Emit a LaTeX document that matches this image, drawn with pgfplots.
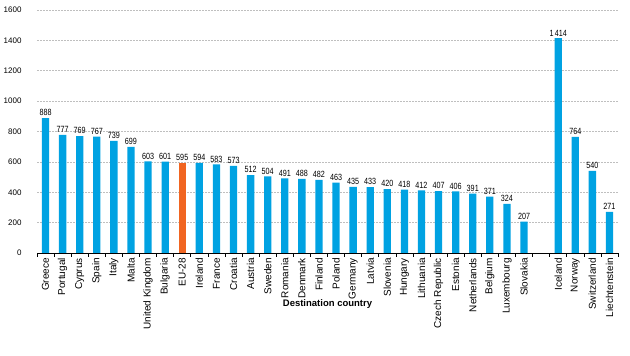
\documentclass[border=0pt]{standalone}
\usepackage{pgfplots}
\pgfplotsset{compat=1.18}
\usepackage{fontspec}
\setmainfont{Liberation Sans}
\definecolor{barblue}{RGB}{0,162,226}
\definecolor{barorange}{RGB}{241,101,33}
\begin{document}
\begin{tikzpicture}
\begin{axis}[
  at={(37bp,103bp)}, anchor=south west,
  scale only axis, width=581bp, height=243bp,
  ybar, bar width=7.3bp,
  xmin=-0.5, xmax=33.5, ymin=0, ymax=1600,
  ytick={0,200,...,1600},
  axis x line*=bottom, axis y line*=left,
  y axis line style={draw=none},
  x axis line style={black, line width=0.6bp},
  xtick={0,1,2,3,4,5,6,7,8,9,10,11,12,13,14,15,16,17,18,19,20,21,22,23,24,25,26,27,28,30,31,32,33},
  xticklabels={Greece,Portugal,Cyprus,Spain,Italy,Malta,United Kingdom,Bulgaria,EU-28,Ireland,France,Croatia,Austria,Sweden,Romania,Denmark,Finland,Poland,Germany,Latvia,Slovenia,Hungary,Lithuania,Czech Republic,Estonia,Netherlands,Belgium,Luxembourg,Slovakia,Iceland,Norway,Switzerland,Liechtenstein},
  minor xtick={-0.5,0.5,...,33.5},
  major tick length=0pt, minor tick length=4bp,
  tick align=outside,
  minor tick style={black, line width=0.6bp},
  xticklabel style={rotate=90, anchor=east, font=\fontsize{10bp}{11bp}\selectfont, inner sep=1bp, xshift=-4bp},
  yticklabel style={font=\fontsize{8bp}{9bp}\selectfont, xshift=-12bp, /pgf/number format/1000 sep={}},
  /pgf/number format/assume math mode=true,
  ymajorgrids, grid style={gray!50, dash pattern=on 2bp off 1bp, line width=0.5bp},
  xlabel={Destination country},
  xlabel style={at={(axis description cs:0.5,0)}, anchor=center, yshift=-51bp, font=\bfseries\fontsize{9.5bp}{11bp}\selectfont},
  nodes near coords={\scalebox{0.8}[1]{\pgfmathprintnumber{\pgfplotspointmeta}}},
  nodes near coords style={font=\fontsize{9bp}{10bp}\selectfont, /pgf/number format/1000 sep={\,}, inner sep=2bp},
  clip=false,
]
\addplot[fill=barblue, draw=none, bar shift=0pt] coordinates {
(0,888) (1,777) (2,769) (3,767) (4,739) (5,699) (6,603) (7,601)
(9,594) (10,583) (11,573) (12,512) (13,504) (14,491) (15,488) (16,482)
(17,463) (18,435) (19,433) (20,420) (21,418) (22,412) (23,407) (24,406)
(25,391) (26,371) (27,324) (28,207)
(30,1414) (31,764) (32,540) (33,271)
};
\addplot[fill=barorange, draw=none, bar shift=0pt] coordinates {(8,595)};
\end{axis}
\pgfresetboundingbox
\path (0,0) rectangle (630bp,356bp);
\end{tikzpicture}
\end{document}
